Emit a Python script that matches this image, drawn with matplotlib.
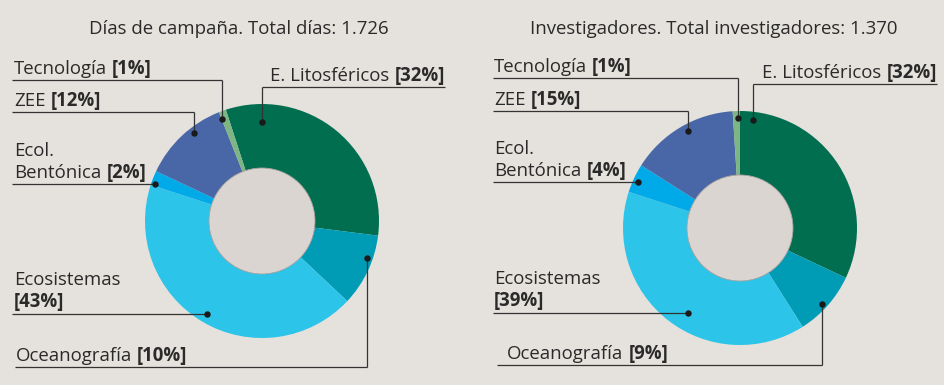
import matplotlib
matplotlib.use("Agg")
import matplotlib.pyplot as plt
from matplotlib.patches import Circle

# slice order, clockwise from the start angle
slice_names = ["E. Litosféricos", "Oceanografía", "Ecosistemas",
               "Ecol. Bentónica", "ZEE", "Tecnología"]
dias_pct = [32, 10, 43, 2, 12, 1]
invest_pct = [32, 9, 39, 4, 15, 1]

dias_title = "Días de campaña. Total días: 1.726"
invest_title = "Investigadores. Total investigadores: 1.370"

slice_colors = ["#006e4f", "#009cb6", "#2cc4e9", "#00aae8", "#4967a6", "#7db684"]

BG = "#e5e1dc"
HOLE = "#dbd5d2"
INK = "#2a2a2a"
LINE = "#333333"
FONT = "Open Sans"
FS = 13.4

W, H = 945, 385

fig = plt.figure(figsize=(W / 100, H / 100), dpi=100)
fig.patch.set_facecolor(BG)
ax = fig.add_axes([0, 0, 1, 1])
ax.set_axis_off()


def Y(y):
    # layout below is measured from the top edge
    return H - y


# label layout per slice: text (x, baseline), underline (x0, x1, y), dot (x, y)
left_layout = [
    dict(text=(270, 81), lines=None, under=(262, 445, 87), dot=(262, 122)),
    dict(text=(16, 361), lines=None, under=(15, 367, 367), dot=(367, 258)),
    dict(text=(14, 307), lines="split", under=(12, 207, 314), dot=(207, 314)),
    dict(text=(14, 178), lines="two", under=(12, 155, 184), dot=(155, 184)),
    dict(text=(14, 106), lines=None, under=(12, 194, 112), dot=(194, 133)),
    dict(text=(14, 74), lines=None, under=(12, 222, 80), dot=(222, 119)),
]
right_layout = [
    dict(text=(762, 78), lines=None, under=(753, 937, 84), dot=(753, 120)),
    dict(text=(507, 359), lines=None, under=(497, 822, 365), dot=(822, 304)),
    dict(text=(494, 306), lines="split", under=(493, 688, 313), dot=(688, 313)),
    dict(text=(494, 176), lines="two", under=(493, 638, 182), dot=(638, 182)),
    dict(text=(494, 105), lines=None, under=(493, 688, 111), dot=(688, 131)),
    dict(text=(494, 72), lines=None, under=(493, 738, 78), dot=(738, 118)),
]

charts = [
    (dias_pct, (262, 221), 108, dias_title, 239, left_layout),
    (invest_pct, (740, 228), 90, invest_title, 714, right_layout),
]

for values, (cx, cy), start, _, _, _ in charts:
    ax.pie(values, colors=slice_colors, startangle=start, counterclock=False,
           center=(cx, Y(cy)), radius=117, wedgeprops=dict(linewidth=0))
    ax.add_patch(Circle((cx, Y(cy)), 53, facecolor=HOLE, edgecolor="#a8a19e",
                        linewidth=0.6, zorder=3))

# pie() resets the limits, so fix the pixel frame before measuring text
ax.set_xlim(0, W)
ax.set_ylim(0, H)
ax.set_aspect("auto")

renderer = fig.canvas.get_renderer()


def label(x, y, name, pct, mode):
    bold = f"[{pct}%]"
    kw = dict(fontsize=FS, family=FONT, color=INK, va="baseline")
    if mode == "split":
        ax.text(x, Y(y) + 22, name, **kw)
        ax.text(x, Y(y), bold, fontweight="bold", **kw)
        return
    if mode == "two":
        first, second = name.split(" ", 1)
        ax.text(x, Y(y) + 22, first, **kw)
        name = second
    t1 = ax.text(x, Y(y), name, **kw)
    ext = t1.get_window_extent(renderer)
    ax.text(ext.x1 + 5, Y(y), bold, fontweight="bold", **kw)


for values, _, _, title, title_x, layout in charts:
    ax.text(title_x, Y(29), title, fontsize=FS, family=FONT, color=INK,
            ha="center", va="center")
    for name, pct, lay in zip(slice_names, values, layout):
        tx, ty = lay["text"]
        label(tx, ty, name, pct, lay["lines"])
        x0, x1, uy = lay["under"]
        dx, dy = lay["dot"]
        ax.plot([x0, x1], [Y(uy), Y(uy)], color=LINE, linewidth=0.9, zorder=4,
                solid_capstyle="butt")
        if dy != uy:
            ax.plot([dx, dx], [Y(uy), Y(dy)], color=LINE, linewidth=0.9, zorder=4,
                    solid_capstyle="butt")
        ax.plot(dx, Y(dy), "o", color="#1a1a1a", markersize=3.6, zorder=5)

fig.savefig("out.png", dpi=100, facecolor=BG)
